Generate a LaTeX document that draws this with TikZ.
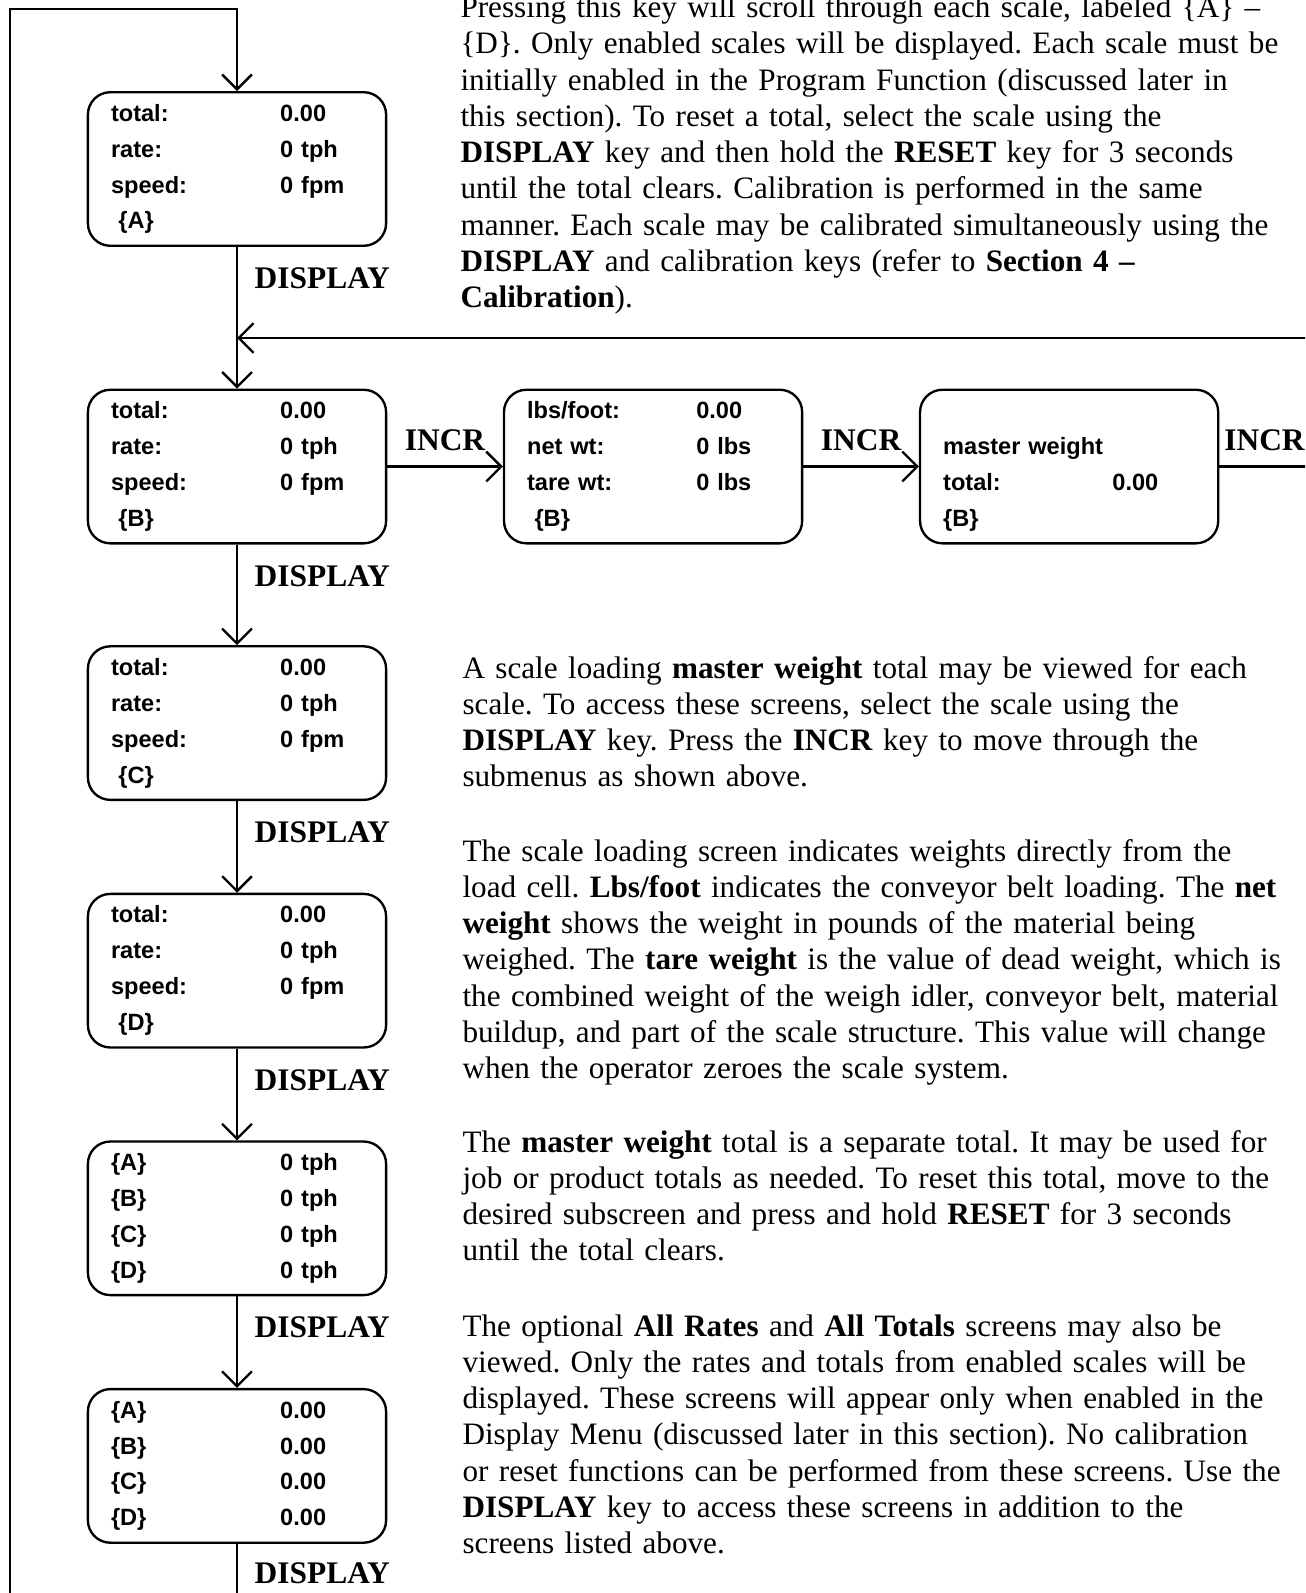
\documentclass[tikz,border=0pt]{standalone}
\usepackage{fontspec}
\setmainfont{Liberation Serif}
\setsansfont{Liberation Sans}
\usetikzlibrary{arrows.meta,positioning}

\newcommand{\scrrow}[2]{\makebox[22.7mm][l]{#1}#2}

\begin{document}
\frenchspacing
\begin{tikzpicture}[x=0.3817pt, y=-0.3817pt, node distance=12.3mm and 15.5mm,
  scr/.style={draw, line width=0.9pt, rounded corners=3mm, minimum width=40mm, minimum height=20.6mm, text width=33.8mm, inner xsep=3.1mm, inner ysep=0pt, align=left, font=\sffamily\bfseries\fontsize{9}{13.7}\selectfont},
  key/.style={inner sep=0pt, font=\bfseries\fontsize{12}{14}\selectfont},
  para/.style={inner sep=0pt, anchor=base west, text width=340pt, align=left, font=\fontsize{11.9}{13.85}\selectfont},
  arr/.style={-{Straight Barb[length=2mm, width=4mm]}, line width=0.9pt}]
\clip[use as bounding box] (0,0) rectangle (1305,1593);
\node[scr] (scrA) at (237,169) {\scrrow{total:}{0.00}\\ \scrrow{rate:}{0 tph}\\ \scrrow{speed:}{0 fpm}\\ \hspace*{1mm}\{A\}};
\node[scr, below=19mm of scrA] (scrB) {\scrrow{total:}{0.00}\\ \scrrow{rate:}{0 tph}\\ \scrrow{speed:}{0 fpm}\\ \hspace*{1mm}\{B\}};
\node[scr, below=13.5mm of scrB] (scrC) {\scrrow{total:}{0.00}\\ \scrrow{rate:}{0 tph}\\ \scrrow{speed:}{0 fpm}\\ \hspace*{1mm}\{C\}};
\node[scr, below=of scrC] (scrD) {\scrrow{total:}{0.00}\\ \scrrow{rate:}{0 tph}\\ \scrrow{speed:}{0 fpm}\\ \hspace*{1mm}\{D\}};
\node[scr, below=of scrD] (rates) {\scrrow{\{A\}}{0 tph}\\ \scrrow{\{B\}}{0 tph}\\ \scrrow{\{C\}}{0 tph}\\ \scrrow{\{D\}}{0 tph}};
\node[scr, below=of rates] (totals) {\scrrow{\{A\}}{0.00}\\ \scrrow{\{B\}}{0.00}\\ \scrrow{\{C\}}{0.00}\\ \scrrow{\{D\}}{0.00}};
\node[scr, right=of scrB] (lbs) {\scrrow{lbs/foot:}{0.00}\\ \scrrow{net wt:}{0 lbs}\\ \scrrow{tare wt:}{0 lbs}\\ \hspace*{1mm}\{B\}};
\node[scr, right=of lbs] (mw) {\vphantom{l}\\ master weight\\ \scrrow{total:}{0.00}\\ \{B\}};
\coordinate (looptop) at (10,9);
\coordinate (loopbot) at (10,1600);
\coordinate (fb) at (237,338);
\coordinate (endF) at (totals.south |- loopbot);
\draw[arr] (loopbot) -- (looptop) -| (scrA.north);
\draw[arr] (scrA) -- (scrB);
\draw[arr] (scrB) -- (scrC);
\draw[arr] (scrC) -- (scrD);
\draw[arr] (scrD) -- (rates);
\draw[arr] (rates) -- (totals);
\draw[line width=0.9pt] (totals) -- (endF);
\draw[arr] (scrB) -- node[key, above=2mm] (incrA) {INCR} (lbs);
\draw[arr] (lbs) -- node[key, above=2mm] (incrB) {INCR} (mw);
\draw[arr] (mw.east) -- ++(12.1mm,0) node[key, midway, above=2mm] (incrC) {INCR} |- (fb);
\node[key, anchor=west] (dispA) at ([xshift=2.3mm, yshift=-4.2mm]scrA.south) {DISPLAY};
\node[key, anchor=west] (dispB) at ([xshift=2.3mm, yshift=-4.2mm]scrB.south) {DISPLAY};
\node[key, anchor=west] (dispC) at ([xshift=2.3mm, yshift=-4.2mm]scrC.south) {DISPLAY};
\node[key, anchor=west] (dispD) at ([xshift=2.3mm, yshift=-4.2mm]scrD.south) {DISPLAY};
\node[key, anchor=west] (dispE) at ([xshift=2.3mm, yshift=-4.2mm]rates.south) {DISPLAY};
\node[key, anchor=west] (dispF) at ([xshift=2.3mm, yshift=-3.9mm]totals.south) {DISPLAY};
\node[para] (txtA) at (460,17.5) {Pressing this key will scroll through each scale, labeled \{A\} –\\
\{D\}. Only enabled scales will be displayed. Each scale must be\\
initially enabled in the Program Function (discussed later in\\
this section). To reset a total, select the scale using the\\
\textbf{DISPLAY} key and then hold the \textbf{RESET} key for 3 seconds\\
until the total clears. Calibration is performed in the same\\
manner. Each scale may be calibrated simultaneously using the\\
\textbf{DISPLAY} and calibration keys (refer to \textbf{Section 4 –}\\
\textbf{Calibration}).};
\node[para] (txtB) at (462,678) {A scale loading \textbf{master weight} total may be viewed for each\\
scale. To access these screens, select the scale using the\\
\textbf{DISPLAY} key. Press the \textbf{INCR} key to move through the\\
submenus as shown above.};
\node[para] (txtC) at (462,861) {The scale loading screen indicates weights directly from the\\
load cell. \textbf{Lbs/foot} indicates the conveyor belt loading. The \textbf{net}\\
\textbf{weight} shows the weight in pounds of the material being\\
weighed. The \textbf{tare weight} is the value of dead weight, which is\\
the combined weight of the weigh idler, conveyor belt, material\\
buildup, and part of the scale structure. This value will change\\
when the operator zeroes the scale system.};
\node[para] (txtD) at (462,1152) {The \textbf{master weight} total is a separate total. It may be used for\\
job or product totals as needed. To reset this total, move to the\\
desired subscreen and press and hold \textbf{RESET} for 3 seconds\\
until the total clears.};
\node[para] (txtE) at (462,1336) {The optional \textbf{All Rates} and \textbf{All Totals} screens may also be\\
viewed. Only the rates and totals from enabled scales will be\\
displayed. These screens will appear only when enabled in the\\
Display Menu (discussed later in this section). No calibration\\
or reset functions can be performed from these screens. Use the\\
\textbf{DISPLAY} key to access these screens in addition to the\\
screens listed above.};
\end{tikzpicture}
\end{document}
